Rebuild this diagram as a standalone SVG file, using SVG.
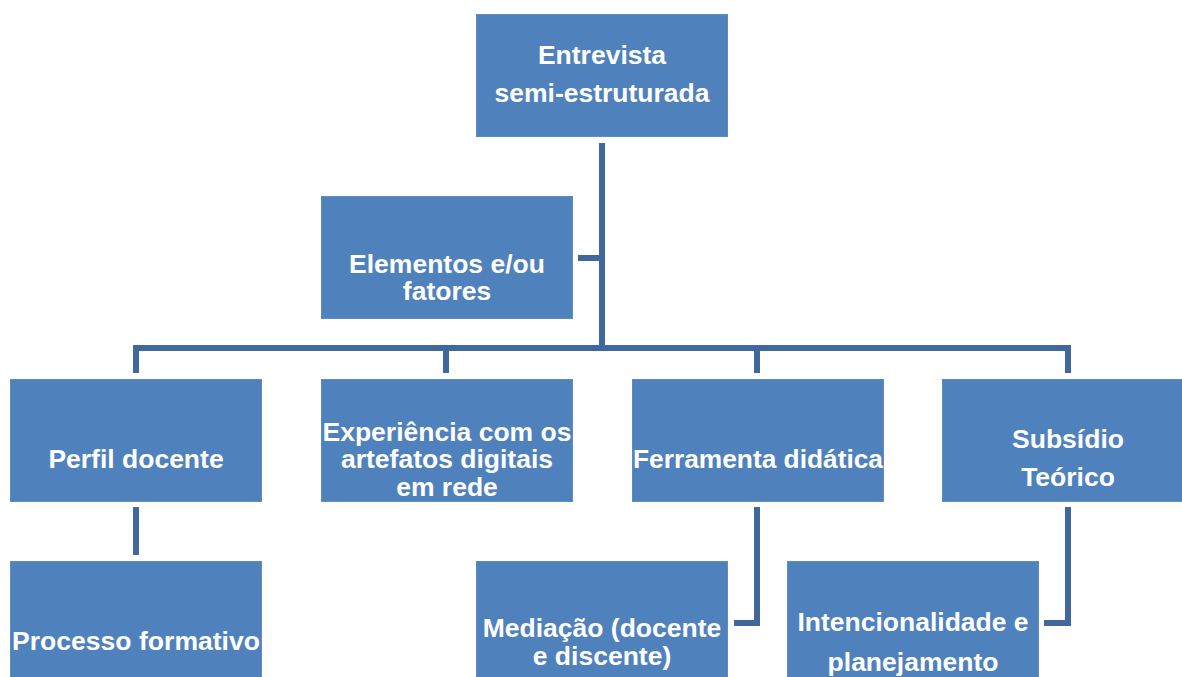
<svg xmlns="http://www.w3.org/2000/svg" width="1182" height="677" viewBox="0 0 1182 677">
<style>
.box{fill:#4F81BD;stroke:#5E8CC4;stroke-width:1}
.t{font-family:"Liberation Sans",Arial,sans-serif;font-weight:bold;font-size:26.5px;fill:#FFFFFF;text-anchor:middle}
.c{fill:none;stroke:#41689A;stroke-width:6;stroke-linejoin:miter}
</style>
<rect width="1182" height="677" fill="#FFFFFF"/>
<g id="connectors">
<path class="c" d="M602 143 V348"/>
<path class="c" d="M578 258 H602"/>
<path class="c" d="M136 373 V348 H1068 V373"/>
<path class="c" d="M446 348 V373"/>
<path class="c" d="M757 348 V373"/>
<path class="c" d="M136 507 V555"/>
<path class="c" d="M757 507 V623 H734"/>
<path class="c" d="M1068 507 V623 H1044"/>
</g>
<g id="n-entrevista">
<rect class="box" x="476.5" y="14.5" width="251" height="122"/>
<text class="t" x="602" y="64">Entrevista</text>
<text class="t" x="602" y="102">semi-estruturada</text>
</g>
<g id="n-elementos">
<rect class="box" x="321.5" y="196.5" width="251" height="122"/>
<text class="t" x="447" y="273">Elementos e/ou</text>
<text class="t" x="447" y="300">fatores</text>
</g>
<g id="n-perfil">
<rect class="box" x="10.5" y="379.5" width="251" height="122"/>
<text class="t" x="136" y="468">Perfil docente</text>
</g>
<g id="n-experiencia">
<rect class="box" x="321.5" y="379.5" width="251" height="122"/>
<text class="t" x="447" y="441" textLength="249" lengthAdjust="spacingAndGlyphs">Experiência com os</text>
<text class="t" x="447" y="468">artefatos digitais</text>
<text class="t" x="447" y="496">em rede</text>
</g>
<g id="n-ferramenta">
<rect class="box" x="632.5" y="379.5" width="251" height="122"/>
<text class="t" x="758" y="468" textLength="250" lengthAdjust="spacingAndGlyphs">Ferramenta didática</text>
</g>
<g id="n-subsidio">
<rect class="box" x="942.5" y="379.5" width="252" height="122"/>
<text class="t" x="1068" y="448">Subsídio</text>
<text class="t" x="1068" y="486">Teórico</text>
</g>
<g id="n-processo">
<rect class="box" x="10.5" y="561.5" width="251" height="130"/>
<text class="t" x="136" y="650" textLength="248" lengthAdjust="spacingAndGlyphs">Processo formativo</text>
</g>
<g id="n-mediacao">
<rect class="box" x="476.5" y="561.5" width="251" height="130"/>
<text class="t" x="602" y="637">Mediação (docente</text>
<text class="t" x="602" y="665">e discente)</text>
</g>
<g id="n-intencionalidade">
<rect class="box" x="787.5" y="561.5" width="251" height="130"/>
<text class="t" x="913" y="631">Intencionalidade e</text>
<text class="t" x="913" y="671">planejamento</text>
</g>
</svg>
